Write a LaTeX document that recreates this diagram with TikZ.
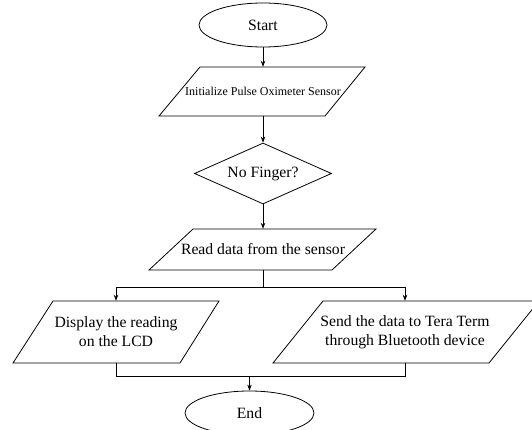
\documentclass[tikz,border=0pt]{standalone}
\usepackage{fontspec}
\setmainfont{Liberation Serif}
\usetikzlibrary{shapes.geometric,arrows.meta}
\begin{document}
\begin{tikzpicture}[x=1pt,y=1pt,
  line/.style={draw=black,line width=0.8pt},
  arr/.style={line,-{Stealth[length=6pt,width=4.5pt]}},
  term/.style={ellipse,draw=black,line width=0.8pt,inner sep=0pt,minimum width=128pt,minimum height=44pt,font=\fontsize{15.7}{19}\selectfont},
  dec/.style={diamond,draw=black,line width=0.8pt,inner sep=0pt,aspect=2.25,minimum width=137pt,minimum height=61pt,font=\fontsize{15.7}{19}\selectfont},
  iotext/.style={inner sep=0pt,align=center,font=\fontsize{15.7}{19}\selectfont},
  para/.style={line,fill=white}]
\clip (0,0) rectangle (532,-430);
\fill[white] (0,0) rectangle (532,-430);
% shapes of the parallelograms
\draw[para] (200,-67) -- (365,-67) -- (325,-116) -- (159,-116) -- cycle;
\draw[para] (193,-229) -- (376,-229) -- (332,-270) -- (149,-270) -- cycle;
\draw[para] (53,-301) -- (219,-301) -- (180,-363) -- (13,-363) -- cycle;
\draw[para] (323,-301) -- (539,-301) -- (489,-363) -- (273,-363) -- cycle;
% nodes
\node[term] (start) at (263,-25) {Start};
\node[iotext,minimum height=49pt,font=\fontsize{12}{14}\selectfont] (init) at (263,-91.5) {Initialize Pulse Oximeter Sensor};
\node[dec] (fing) at (263,-173.5) {No Finger?};
\node[iotext,minimum height=41pt] (read) at (263,-249.5) {Read data from the sensor};
\node[iotext,minimum height=62pt] (disp) at (116,-332) {Display the reading\\on the LCD};
\node[iotext,minimum height=62pt] (send) at (405,-332) {Send the data to Tera Term\\through Bluetooth device};
\node[term,minimum width=129pt] (end) at (249.5,-413) {End};
\coordinate (split) at (263,-287);
\coordinate (merge) at (249.5,-376);
% connectors
\draw[arr] (start) -- (init);
\draw[arr] (init) -- (fing);
\draw[arr] (fing) -- (read);
\draw[line] (read.south) -- (split);
\draw[arr] (split) -| (disp.north);
\draw[arr] (split) -| (send.north);
\draw[line] (disp.south) |- (merge);
\draw[line] (send.south) |- (merge);
\draw[arr] (merge) -- (end);
\end{tikzpicture}
\end{document}
